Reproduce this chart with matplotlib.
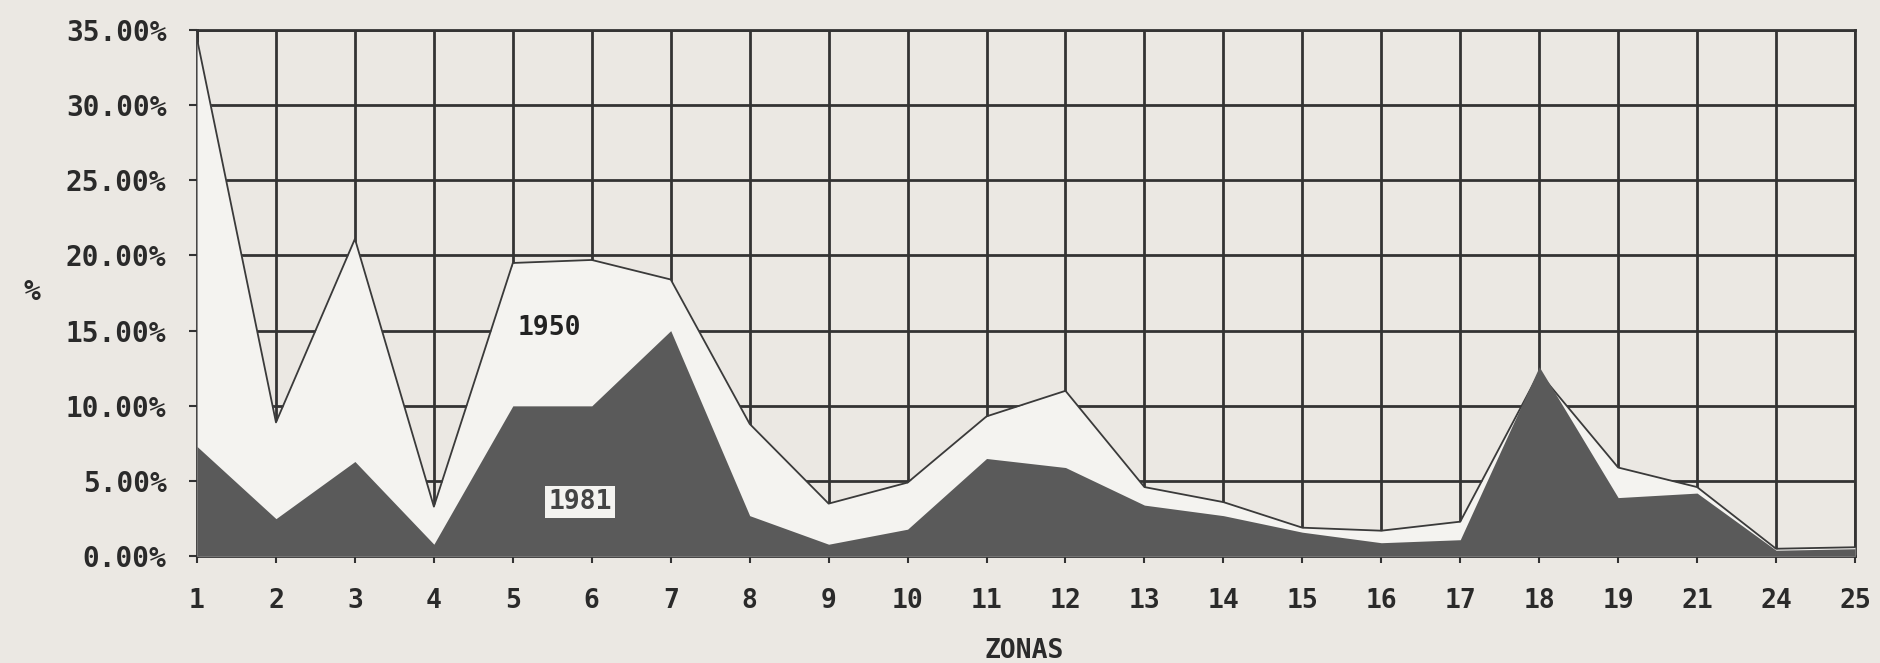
import matplotlib
matplotlib.use("Agg")
import matplotlib.pyplot as plt
import numpy as np

zonas = ["1", "2", "3", "4", "5", "6", "7", "8", "9", "10", "11", "12", "13",
         "14", "15", "16", "17", "18", "19", "21", "24", "25"]
v1950 = [34.4, 8.9, 21.1, 3.3, 19.5, 19.7, 18.4, 8.8, 3.5, 4.9, 9.3, 11.0,
         4.6, 3.6, 1.9, 1.7, 2.3, 12.2, 5.9, 4.6, 0.5, 0.6]
v1981 = [7.3, 2.5, 6.3, 0.8, 10.0, 10.0, 15.0, 2.7, 0.8, 1.8, 6.5, 5.9,
         3.4, 2.7, 1.6, 0.9, 1.1, 12.6, 3.9, 4.2, 0.4, 0.5]
yticks = [0, 5, 10, 15, 20, 25, 30, 35]
ytick_labels = ["0.00%", "5.00%", "10.00%", "15.00%", "20.00%", "25.00%", "30.00%", "35.00%"]

bg = "#ebe8e3"
dark = "#333333"
font = "DejaVu Sans Mono"

fig = plt.figure(figsize=(18.8, 6.63), dpi=100, facecolor=bg)
ax = fig.add_axes([0.1048, 0.161, 0.9867 - 0.1048, 0.955 - 0.161])
ax.set_facecolor(bg)

x = np.arange(len(zonas))
ax.fill_between(x, 0, v1950, color="#f4f3f0", zorder=2, linewidth=0)
ax.plot(x, v1950, color="#3a3a3a", linewidth=1.3, zorder=3)
ax.fill_between(x, 0, v1981, color="#5a5a5a", zorder=4, linewidth=0)

ax.set_xlim(0, len(zonas) - 1)
ax.set_ylim(0, 35)
ax.set_xticks(x)
ax.set_xticklabels(zonas, fontsize=19, fontweight="bold", family=font, color="#2a2a2a")
ax.set_yticks(yticks)
ax.set_yticklabels(ytick_labels, fontsize=20, fontweight="bold", family=font, color="#2a2a2a")
ax.tick_params(axis="x", length=5, width=1.5, color=dark, pad=18)
ax.tick_params(axis="y", length=6, width=1.5, color=dark, pad=16)

ax.set_axisbelow(True)
ax.grid(True, color=dark, linewidth=2.0, zorder=1)
for s in ax.spines.values():
    s.set_color(dark)
    s.set_linewidth(2.0)
    s.set_zorder(1)

ax.text(4.46, 15.2, "1950", fontsize=19, fontweight="bold", family=font,
        color="#222222", ha="center", va="center", zorder=6)
ax.text(4.85, 3.6, "1981", fontsize=19, fontweight="bold", family=font,
        color="#444444", ha="center", va="center", zorder=6,
        bbox=dict(boxstyle="square,pad=0.12", facecolor="#f4f3f0", edgecolor="none"))

fig.text(0.017, 0.56, "%", fontsize=20, fontweight="bold", family=font,
         color="#2a2a2a", ha="center", va="center")
fig.text(0.545, 0.018, "ZONAS", fontsize=19, fontweight="bold", family=font,
         color="#2a2a2a", ha="center", va="center")

fig.savefig("out.png", dpi=100, facecolor=bg)
